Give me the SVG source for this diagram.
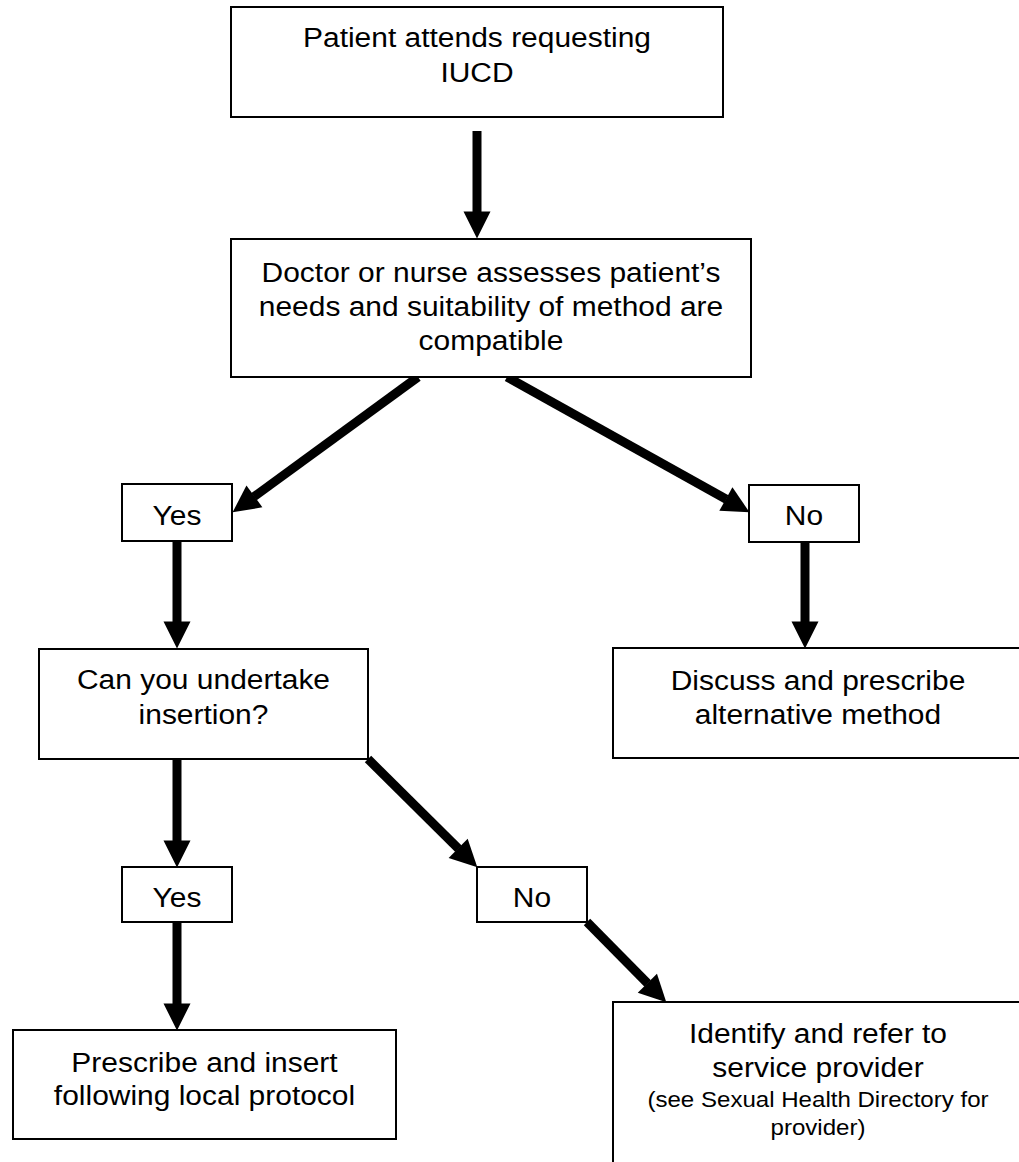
<svg xmlns="http://www.w3.org/2000/svg" width="1019" height="1162" viewBox="0 0 1019 1162">
  <style>
    .box { fill: #ffffff; stroke: #000000; stroke-width: 2; }
    .lbl { font-family: "Liberation Sans", Arial, sans-serif; font-size: 28px; fill: #000000; text-anchor: middle; }
    .small { font-size: 22.5px; }
    .conn { stroke: #000000; stroke-width: 9; fill: none; marker-end: url(#head); }
  </style>
  <defs>
    <marker id="head" markerUnits="userSpaceOnUse" markerWidth="28" markerHeight="28" refX="0.5" refY="13.5" orient="auto" overflow="visible">
      <path d="M0,0 L27,13.5 L0,27 Z" fill="#000000"/>
    </marker>
  </defs>
  <rect width="1019" height="1162" fill="#ffffff"/>

  <g id="connectors">
    <line class="conn" x1="477" y1="131" x2="477" y2="212"/>
    <line class="conn" x1="418" y1="377" x2="254" y2="496.7"/>
    <line class="conn" x1="507" y1="377" x2="726.3" y2="499.3"/>
    <line class="conn" x1="177" y1="541" x2="177" y2="622"/>
    <line class="conn" x1="805" y1="542" x2="805" y2="622"/>
    <line class="conn" x1="177" y1="759" x2="177" y2="841"/>
    <line class="conn" x1="368" y1="759" x2="458.5" y2="848.7"/>
    <line class="conn" x1="587" y1="922" x2="647.7" y2="983.5"/>
    <line class="conn" x1="177" y1="922" x2="177" y2="1004"/>
  </g>

  <g id="patient-attends">
    <rect class="box" x="231" y="7" width="492" height="110"/>
    <g transform="translate(477 0) scale(1.07 1)">
      <text class="lbl" x="0" y="47">Patient attends requesting</text>
      <text class="lbl" x="0" y="82">IUCD</text>
    </g>
  </g>

  <g id="assess">
    <rect class="box" x="231" y="239" width="520" height="138"/>
    <g transform="translate(491 0) scale(1.07 1)">
      <text class="lbl" x="0" y="282">Doctor or nurse assesses patient’s</text>
      <text class="lbl" x="0" y="316">needs and suitability of method are</text>
      <text class="lbl" x="0" y="350">compatible</text>
    </g>
  </g>

  <g id="yes1">
    <rect class="box" x="122" y="484" width="110" height="57"/>
    <g transform="translate(177 0) scale(1.07 1)">
      <text class="lbl" x="0" y="525">Yes</text>
    </g>
  </g>

  <g id="no1">
    <rect class="box" x="749" y="485" width="110" height="57"/>
    <g transform="translate(804 0) scale(1.07 1)">
      <text class="lbl" x="0" y="525">No</text>
    </g>
  </g>

  <g id="undertake">
    <rect class="box" x="39" y="649" width="329" height="110"/>
    <g transform="translate(203.5 0) scale(1.07 1)">
      <text class="lbl" x="0" y="689">Can you undertake</text>
      <text class="lbl" x="0" y="724">insertion?</text>
    </g>
  </g>

  <g id="discuss">
    <rect class="box" x="613" y="648" width="412" height="110"/>
    <g transform="translate(818 0) scale(1.07 1)">
      <text class="lbl" x="0" y="690">Discuss and prescribe</text>
      <text class="lbl" x="0" y="724">alternative method</text>
    </g>
  </g>

  <g id="yes2">
    <rect class="box" x="122" y="867" width="110" height="55"/>
    <g transform="translate(177 0) scale(1.07 1)">
      <text class="lbl" x="0" y="907">Yes</text>
    </g>
  </g>

  <g id="no2">
    <rect class="box" x="477" y="867" width="110" height="55"/>
    <g transform="translate(532 0) scale(1.07 1)">
      <text class="lbl" x="0" y="907">No</text>
    </g>
  </g>

  <g id="prescribe">
    <rect class="box" x="13" y="1030" width="383" height="109"/>
    <g transform="translate(204.5 0) scale(1.07 1)">
      <text class="lbl" x="0" y="1072">Prescribe and insert</text>
      <text class="lbl" x="0" y="1105">following local protocol</text>
    </g>
  </g>

  <g id="refer">
    <rect class="box" x="613" y="1002" width="412" height="170"/>
    <g transform="translate(818 0) scale(1.07 1)">
      <text class="lbl" x="0" y="1043">Identify and refer to</text>
      <text class="lbl" x="0" y="1077">service provider</text>
      <text class="lbl small" x="0" y="1107">(see Sexual Health Directory for</text>
      <text class="lbl small" x="0" y="1135">provider)</text>
    </g>
  </g>
</svg>
